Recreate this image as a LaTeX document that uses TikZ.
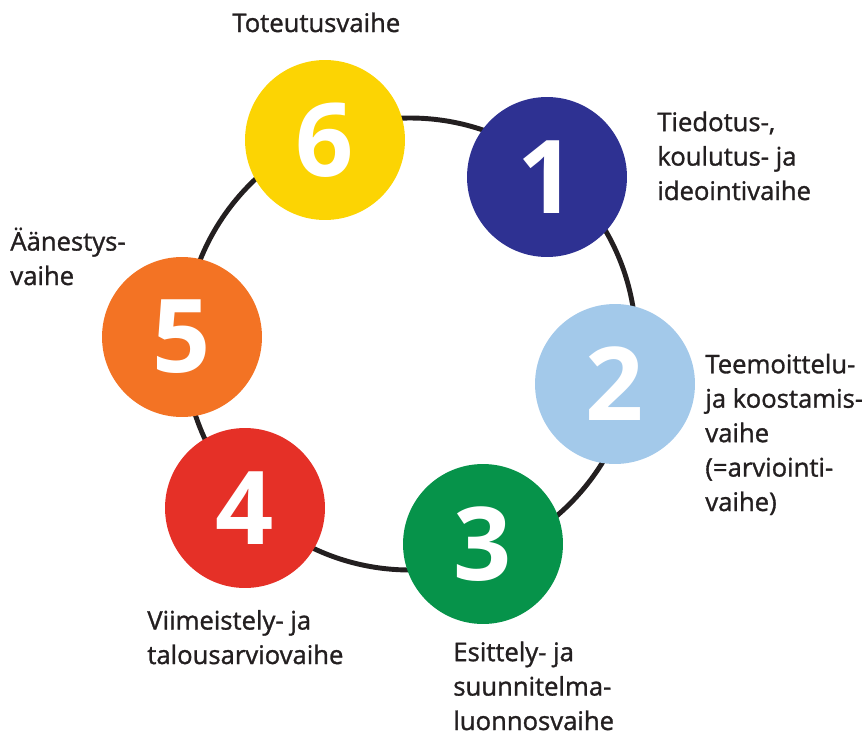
\documentclass[tikz,border=0pt]{standalone}
\usepackage{fontspec}
\setmainfont{Open Sans}
\newfontfamily\digitfont{Open Sans}
\newfontfamily\lblfont{Open Sans}[FakeBold=1.2]
\usetikzlibrary{positioning}
\definecolor{ringgray}{HTML}{231F20}
\definecolor{phaseblue}{HTML}{2E3192}
\definecolor{phaselightblue}{HTML}{A3C9EA}
\definecolor{phasegreen}{HTML}{06934A}
\definecolor{phasered}{HTML}{E53027}
\definecolor{phaseorange}{HTML}{F37324}
\definecolor{phaseyellow}{HTML}{FCD403}
\tikzset{
  phase/.style   = {circle, minimum size=3.2cm, inner sep=0pt, text=white, font=\digitfont\bfseries\fontsize{58}{60}\selectfont},
  phaselbl/.style = {anchor=base west, inner sep=0pt, align=left, text=ringgray, font=\lblfont\fontsize{14.6}{19.6}\selectfont},
  ringline/.style = {draw=ringgray, line width=2.8pt},
}
\begin{document}
\begin{tikzpicture}[x=0.02cm, y=-0.02cm]
  \useasboundingbox (0,0) rectangle (862,734);
  \draw[ringline] (410,344) circle[radius=226];

  \node[phase, fill=phaseblue]      (p1) at (547,177) {1};
  \node[phase, fill=phaselightblue] (p2) at (615,384) {2};
  \node[phase, fill=phasegreen]     (p3) at (483,544) {3};
  \node[phase, fill=phasered]       (p4) at (245,508) {4};
  \node[phase, fill=phaseorange]    (p5) at (182,337) {5};
  \node[phase, fill=phaseyellow]    (p6) at (325,140) {6};

  % labels sit on the baseline of their last line
  \node[phaselbl] (l1) at (657,200) {Tiedotus-,\\koulutus- ja\\ideointivaihe};
  \node[phaselbl] (l2) at (705,511) {Teemoittelu-\\ja koostamis-\\vaihe\\(=arviointi-\\vaihe)};
  \node[phaselbl] (l3) at (453,730) {Esittely- ja\\suunnitelma-\\luonnosvaihe};
  \node[phaselbl] (l4) at (147,664) {Viimeistely- ja\\talousarviovaihe};
  \node[phaselbl] (l5) at (10,285) {Äänestys-\\vaihe};
  \node[phaselbl] (l6) at (232,32) {Toteutusvaihe};
\end{tikzpicture}
\end{document}
